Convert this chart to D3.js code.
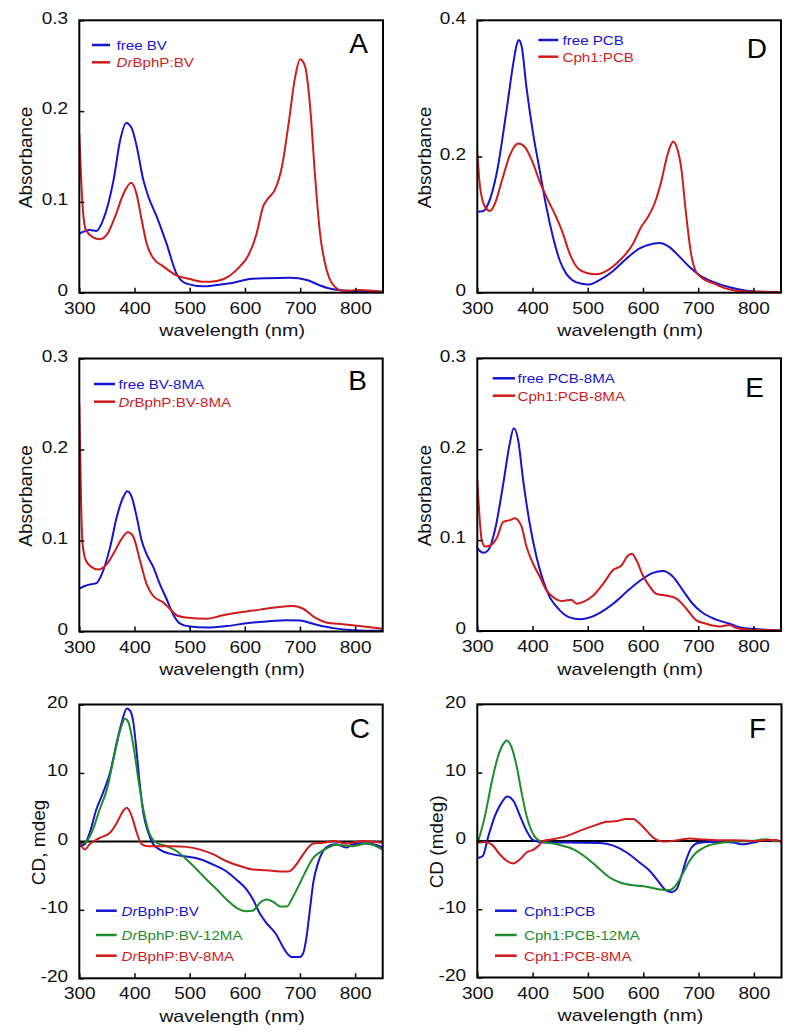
<!DOCTYPE html>
<html><head><meta charset="utf-8">
<script src="https://cdn.jsdelivr.net/npm/d3@7"></script>
<style>
body{margin:0;background:#fff;}
svg{display:block;font-family:"Liberation Sans",Arial,Helvetica,sans-serif;}
</style></head>
<body><svg id="chart" width="800" height="1033"></svg>
<script>
// ---------- DATA ----------
const xTicks = [300,400,500,600,700,800];
const yTicksA = [0,0.1,0.2,0.3];
const yTicksD = [0,0.2,0.4];
const yTicksCD = [-20,-10,0,10,20];

// Panel A
const freeBV = [[300,0.065],[319,0.069],[331,0.068],[343,0.08],[362,0.124],[374,0.168],[385,0.187],[395,0.181],[404,0.161],[416,0.124],[425,0.106],[440,0.084],[458,0.054],[476,0.021],[494,0.010],[525,0.007],[549,0.0085],[579,0.011],[609,0.015],[639,0.016],[682,0.0165],[712,0.014],[736,0.008],[760,0.0037],[790,0.002],[850,0.001]];
const drBphP_BV = [[300,0.175],[306,0.095],[312,0.069],[325,0.061],[337,0.059],[350,0.064],[365,0.084],[380,0.109],[394,0.121],[404,0.108],[413,0.080],[422,0.054],[434,0.038],[452,0.029],[476,0.019],[500,0.015],[525,0.012],[549,0.013],[573,0.019],[591,0.029],[606,0.041],[621,0.065],[633,0.095],[642,0.104],[654,0.113],[667,0.139],[679,0.186],[691,0.238],[700,0.257],[709,0.249],[718,0.205],[727,0.128],[736,0.065],[748,0.025],[760,0.0084],[778,0.002],[808,0.003],[850,0.001]];

// Panel B
const freeBV8MA = [[300,0.047],[310,0.050],[322,0.052],[331,0.053],[340,0.062],[356,0.093],[368,0.126],[380,0.148],[387,0.154],[395,0.148],[404,0.126],[413,0.100],[422,0.085],[434,0.071],[446,0.052],[458,0.036],[470,0.019],[482,0.009],[500,0.0055],[531,0.0044],[567,0.006],[603,0.009],[639,0.011],[676,0.0125],[700,0.012],[730,0.0074],[760,0.0037],[796,0.0015],[850,0.0007]];
const drBphP_BV8MA = [[300,0.25],[303,0.148],[306,0.096],[312,0.078],[322,0.071],[334,0.068],[350,0.074],[365,0.089],[377,0.102],[388,0.109],[398,0.104],[410,0.078],[422,0.052],[434,0.039],[452,0.032],[464,0.025],[479,0.017],[494,0.0155],[531,0.014],[555,0.017],[579,0.020],[615,0.023],[651,0.026],[688,0.028],[706,0.025],[724,0.0166],[748,0.010],[778,0.008],[808,0.006],[850,0.003]];

// Panel C (CD)
const cdDrBV = [[301,-0.7],[310,-0.4],[319,1.3],[331,4.7],[343,7.1],[356,10.1],[368,14.5],[377,17.4],[386,19.4],[392,19.1],[398,17.4],[404,13.0],[410,8.1],[416,4.2],[425,1.3],[434,-0.4],[446,-1.2],[470,-1.9],[494,-2.2],[519,-2.6],[543,-3.4],[567,-4.4],[585,-5.6],[603,-7.0],[615,-8.5],[627,-10.5],[639,-11.9],[648,-12.7],[657,-13.6],[667,-15.1],[676,-16.3],[685,-16.9],[700,-16.9],[706,-16.3],[712,-13.9],[718,-10.0],[724,-6.1],[733,-3.1],[742,-1.4],[754,-0.6],[766,-0.4],[784,-0.9],[796,-0.4],[814,-0.3],[833,-0.4],[850,-0.9]];
const cdDrBV12MA = [[301,-0.4],[313,0],[325,1.8],[337,4.7],[350,7.6],[362,12.0],[374,16.2],[383,17.9],[389,17.4],[398,14.0],[407,9.1],[416,4.7],[428,1.0],[440,-0.2],[458,-0.7],[476,-1.4],[494,-2.6],[513,-4.1],[531,-5.6],[549,-7.0],[567,-8.5],[585,-9.7],[603,-10.2],[615,-10.1],[627,-9.0],[639,-8.5],[651,-8.8],[664,-9.5],[676,-9.5],[688,-8.0],[700,-6.1],[712,-4.1],[724,-2.4],[736,-1.6],[751,-0.9],[766,-0.5],[796,-0.7],[821,-0.3],[850,-1.2]];
const cdDrBV8MA = [[301,-0.2],[310,-1.2],[319,-0.4],[337,0.5],[356,1.3],[368,2.7],[380,4.5],[386,4.9],[395,3.7],[404,1.3],[413,-0.4],[425,-0.7],[446,-0.7],[470,-0.7],[494,-0.8],[519,-1.2],[543,-1.9],[567,-2.9],[591,-3.6],[615,-4.1],[639,-4.2],[664,-4.4],[679,-4.4],[688,-3.9],[700,-2.6],[712,-1.2],[724,-0.3],[742,-0.2],[760,0.05],[784,-0.3],[814,0.05],[850,-0.2]];

// Panel D
const freePCB = [[300,0.119],[311,0.120],[320,0.131],[335,0.175],[353,0.268],[365,0.336],[371,0.363],[375,0.371],[380,0.363],[389,0.302],[401,0.234],[413,0.180],[425,0.126],[437,0.082],[449,0.048],[461,0.028],[473,0.018],[489,0.013],[501,0.012],[522,0.019],[546,0.032],[570,0.050],[594,0.065],[618,0.072],[630,0.073],[648,0.067],[666,0.053],[684,0.038],[702,0.026],[727,0.016],[757,0.008],[787,0.003],[823,0.001],[850,0]];
const cph1PCB = [[300,0.205],[305,0.155],[314,0.126],[323,0.120],[332,0.131],[344,0.163],[359,0.202],[374,0.219],[386,0.214],[401,0.190],[413,0.163],[428,0.136],[443,0.111],[455,0.087],[467,0.058],[480,0.038],[498,0.029],[516,0.027],[534,0.032],[552,0.043],[570,0.058],[582,0.072],[597,0.097],[609,0.111],[621,0.131],[633,0.163],[642,0.195],[649,0.214],[655,0.222],[661,0.214],[669,0.185],[678,0.116],[687,0.058],[696,0.031],[708,0.021],[727,0.014],[751,0.006],[781,0.002],[850,0.001]];

// Panel E
const freePCB8MA = [[300,0.091],[311,0.086],[320,0.089],[332,0.111],[347,0.162],[359,0.207],[366,0.223],[374,0.210],[383,0.166],[395,0.118],[407,0.082],[419,0.056],[431,0.0375],[449,0.023],[467,0.015],[486,0.013],[504,0.015],[522,0.020],[546,0.030],[570,0.043],[594,0.055],[618,0.064],[636,0.066],[654,0.060],[672,0.045],[690,0.030],[708,0.020],[733,0.0125],[757,0.008],[781,0.0033],[811,0.0018],[850,0.0007]];
const cph1PCB8MA = [[300,0.166],[304,0.126],[308,0.100],[314,0.093],[323,0.094],[335,0.102],[347,0.120],[359,0.122],[368,0.124],[380,0.115],[389,0.093],[401,0.074],[413,0.060],[425,0.045],[437,0.0375],[455,0.033],[470,0.0345],[480,0.030],[492,0.032],[510,0.039],[528,0.052],[546,0.067],[561,0.072],[573,0.083],[580,0.085],[588,0.078],[600,0.061],[612,0.049],[624,0.041],[642,0.039],[660,0.036],[678,0.025],[696,0.012],[714,0.008],[739,0.005],[757,0.0066],[769,0.0033],[793,0.0015],[850,0.0007]];

// Panel F (CD)
const cdCph1PCB = [[301,-2.5],[310,-2.2],[320,0.7],[332,3.7],[344,5.6],[354,6.5],[365,5.9],[377,3.7],[389,1.5],[401,0.1],[419,-0.25],[461,-0.25],[522,-0.3],[546,-0.7],[570,-1.7],[594,-3.2],[612,-4.4],[627,-5.9],[639,-7.1],[651,-7.5],[660,-7.1],[669,-5.1],[678,-2.7],[687,-1.0],[699,-0.3],[720,-0.15],[745,-0.15],[763,-0.25],[781,-0.5],[799,-0.25],[823,0.15],[841,0]];
const cdCph1PCB12MA = [[301,-0.25],[314,3.7],[326,8.6],[338,12.5],[347,14.2],[353,14.7],[362,13.7],[371,11.0],[380,7.1],[389,3.7],[401,1.0],[413,0],[431,-0.3],[449,-0.6],[473,-1.2],[498,-2.5],[522,-4.2],[540,-5.4],[558,-6.1],[582,-6.5],[606,-6.7],[630,-7.1],[648,-7.2],[660,-6.4],[672,-4.7],[684,-2.9],[696,-1.7],[714,-0.8],[739,-0.3],[763,-0.1],[799,0],[823,0.25],[841,-0.15]];
const cdCph1PCB8MA = [[301,-0.25],[314,-0.15],[326,-0.5],[341,-2.0],[353,-2.9],[365,-3.3],[377,-2.7],[389,-1.7],[401,-1.3],[410,-0.8],[419,0],[437,0.25],[461,0.7],[486,1.5],[510,2.2],[534,2.8],[552,2.9],[570,3.2],[582,3.2],[594,2.5],[606,1.5],[618,0.5],[630,0],[642,-0.1],[666,0.15],[684,0.35],[702,0.25],[733,0.1],[763,0.1],[799,0],[829,0.15],[841,0.15],[850,-0.25]];

// ---------- STYLE ----------
const BLUE = "#1414d2", RED = "#cf1b1b", GREEN = "#1d8c2b";
const svg = d3.select("#chart");

function fmtAbs(d){ return d === 0 ? "0" : d3.format(".1f")(d); }

const panels = [
  {box:[79.3,20.3,383,292.7], yDom:[0,0.3], yTicks:yTicksA, fmt:fmtAbs, ytitle:"Absorbance", ytx:32, letter:"A", lx:368, ly:53,
   series:[{d:freeBV,c:BLUE,lab:[["free BV",false]]},{d:drBphP_BV,c:RED,lab:[["Dr",true],["BphP:BV",false]]}],
   leg:{x1:92,x2:110,tx:116.5,y:[45,62.3]}},
  {box:[79.3,358.5,382.7,631.5], yDom:[0,0.3], yTicks:yTicksA, fmt:fmtAbs, ytitle:"Absorbance", ytx:32, letter:"B", lx:367, ly:390,
   series:[{d:freeBV8MA,c:BLUE,lab:[["free BV-8MA",false]]},{d:drBphP_BV8MA,c:RED,lab:[["Dr",true],["BphP:BV-8MA",false]]}],
   leg:{x1:94,x2:115,tx:118.5,y:[384,401.7]}},
  {box:[79.3,704.5,382.7,978.3], yDom:[-20,20], yTicks:yTicksCD, fmt:d=>String(d), ytitle:"CD, mdeg", ytx:45, letter:"C", lx:370, ly:738, zero:true,
   series:[{d:cdDrBV,c:BLUE,lab:[["Dr",true],["BphP:BV",false]]},{d:cdDrBV12MA,c:GREEN,lab:[["Dr",true],["BphP:BV-12MA",false]]},{d:cdDrBV8MA,c:RED,lab:[["Dr",true],["BphP:BV-8MA",false]]}],
   leg:{x1:96,x2:116.7,tx:121.5,y:[910.7,935,955.7]}},
  {box:[477.3,20.3,781,292.7], yDom:[0,0.4], yTicks:yTicksD, fmt:fmtAbs, ytitle:"Absorbance", ytx:431, letter:"D", lx:767, ly:57.5,
   series:[{d:freePCB,c:BLUE,lab:[["free PCB",false]]},{d:cph1PCB,c:RED,lab:[["Cph1:PCB",false]]}],
   leg:{x1:538.3,x2:558.3,tx:562.5,y:[40,56.7]}},
  {box:[477.3,358.3,781,631], yDom:[0,0.3], yTicks:yTicksA, fmt:fmtAbs, ytitle:"Absorbance", ytx:431, letter:"E", lx:764, ly:396.7,
   series:[{d:freePCB8MA,c:BLUE,lab:[["free PCB-8MA",false]]},{d:cph1PCB8MA,c:RED,lab:[["Cph1:PCB-8MA",false]]}],
   leg:{x1:492.7,x2:515,tx:517.5,y:[378.3,395.7]}},
  {box:[477.3,704.3,781.5,977.5], yDom:[-20,20], yTicks:yTicksCD, fmt:d=>String(d), ytitle:"CD (mdeg)", ytx:443, letter:"F", lx:766, ly:738, zero:true,
   series:[{d:cdCph1PCB,c:BLUE,lab:[["Cph1:PCB",false]]},{d:cdCph1PCB12MA,c:GREEN,lab:[["Cph1:PCB-12MA",false]]},{d:cdCph1PCB8MA,c:RED,lab:[["Cph1:PCB-8MA",false]]}],
   leg:{x1:495,x2:516.7,tx:524,y:[910.7,935,955.7]}}
];

const SX = 1.12;
panels.forEach((p,i)=>{
  const [x0,y0,x1,y1] = p.box;
  const x = d3.scaleLinear().domain([300,850]).range([x0,x1]);
  const y = d3.scaleLinear().domain(p.yDom).range([y1,y0]);
  const g = svg.append("g");

  const cid = "clip"+i;
  svg.append("clipPath").attr("id",cid).append("rect").attr("x",x0).attr("y",y0).attr("width",x1-x0).attr("height",y1-y0);

  // zero line
  if(p.zero){
    g.append("line").attr("x1",x0).attr("x2",x1).attr("y1",y(0)).attr("y2",y(0)).attr("stroke","#000").attr("stroke-width",2);
  }

  // curves
  const line = d3.line().x(d=>x(d[0])).y(d=>y(d[1])).curve(d3.curveMonotoneX);
  const cg = g.append("g").attr("clip-path",`url(#${cid})`);
  p.series.forEach(s=>{
    cg.append("path").attr("d",line(s.d)).attr("fill","none").attr("stroke",s.c).attr("stroke-width",2).attr("stroke-linejoin","round");
  });

  // x axis
  const xa = g.append("g").attr("transform",`translate(0,${y1})`)
    .call(d3.axisBottom(x).tickValues(xTicks).tickSizeInner(-5).tickSizeOuter(0).tickPadding(9).tickFormat(d3.format("d")));
  xa.select(".domain").remove();
  xa.selectAll("line").attr("stroke","#000").attr("stroke-width",1.5);
  xa.selectAll("text").attr("font-size",17).attr("fill","#111").attr("font-family","Liberation Sans, Arial, sans-serif").attr("transform",`scale(${SX},1)`);

  // y axis
  const ya = g.append("g").attr("transform",`translate(${x0},0)`)
    .call(d3.axisLeft(y).tickValues(p.yTicks).tickSizeInner(-5).tickSizeOuter(0).tickPadding(10).tickFormat(p.fmt));
  ya.select(".domain").remove();
  ya.selectAll("line").attr("stroke","#000").attr("stroke-width",1.5);
  ya.selectAll("text").attr("font-size",17).attr("fill","#111").attr("dy","0.17em").attr("font-family","Liberation Sans, Arial, sans-serif").attr("transform",`scale(${SX},1)`);

  // frame
  g.append("rect").attr("x",x0).attr("y",y0).attr("width",x1-x0).attr("height",y1-y0)
    .attr("fill","none").attr("stroke","#000").attr("stroke-width",2);

  // x title
  g.append("text").attr("transform",`translate(${(x0+x1)/2+1},${y1+43.5}) scale(1.16,1)`)
    .attr("text-anchor","middle").attr("font-size",17).attr("fill","#111").text("wavelength (nm)");
  // y title
  g.append("text").attr("transform",`translate(${p.ytx},${(y0+y1)/2+1}) rotate(-90)`)
    .attr("text-anchor","middle").attr("font-size",19).attr("fill","#111").text(p.ytitle);
  // panel letter
  g.append("text").attr("x",p.lx).attr("y",p.ly).attr("text-anchor","end").attr("font-size",28).attr("fill","#000").text(p.letter);

  // legend
  p.series.forEach((s,k)=>{
    const ly = p.leg.y[k];
    g.append("line").attr("x1",p.leg.x1).attr("x2",p.leg.x2).attr("y1",ly).attr("y2",ly).attr("stroke",s.c).attr("stroke-width",2.5);
    const t = g.append("text").attr("transform",`translate(${p.leg.tx},${ly+5}) scale(1.12,1)`)
      .attr("font-size",13.5).attr("fill",s.c);
    s.lab.forEach(([txt,it])=>{
      t.append("tspan").attr("font-style",it?"italic":"normal").text(txt);
    });
  });
});
</script></body></html>
